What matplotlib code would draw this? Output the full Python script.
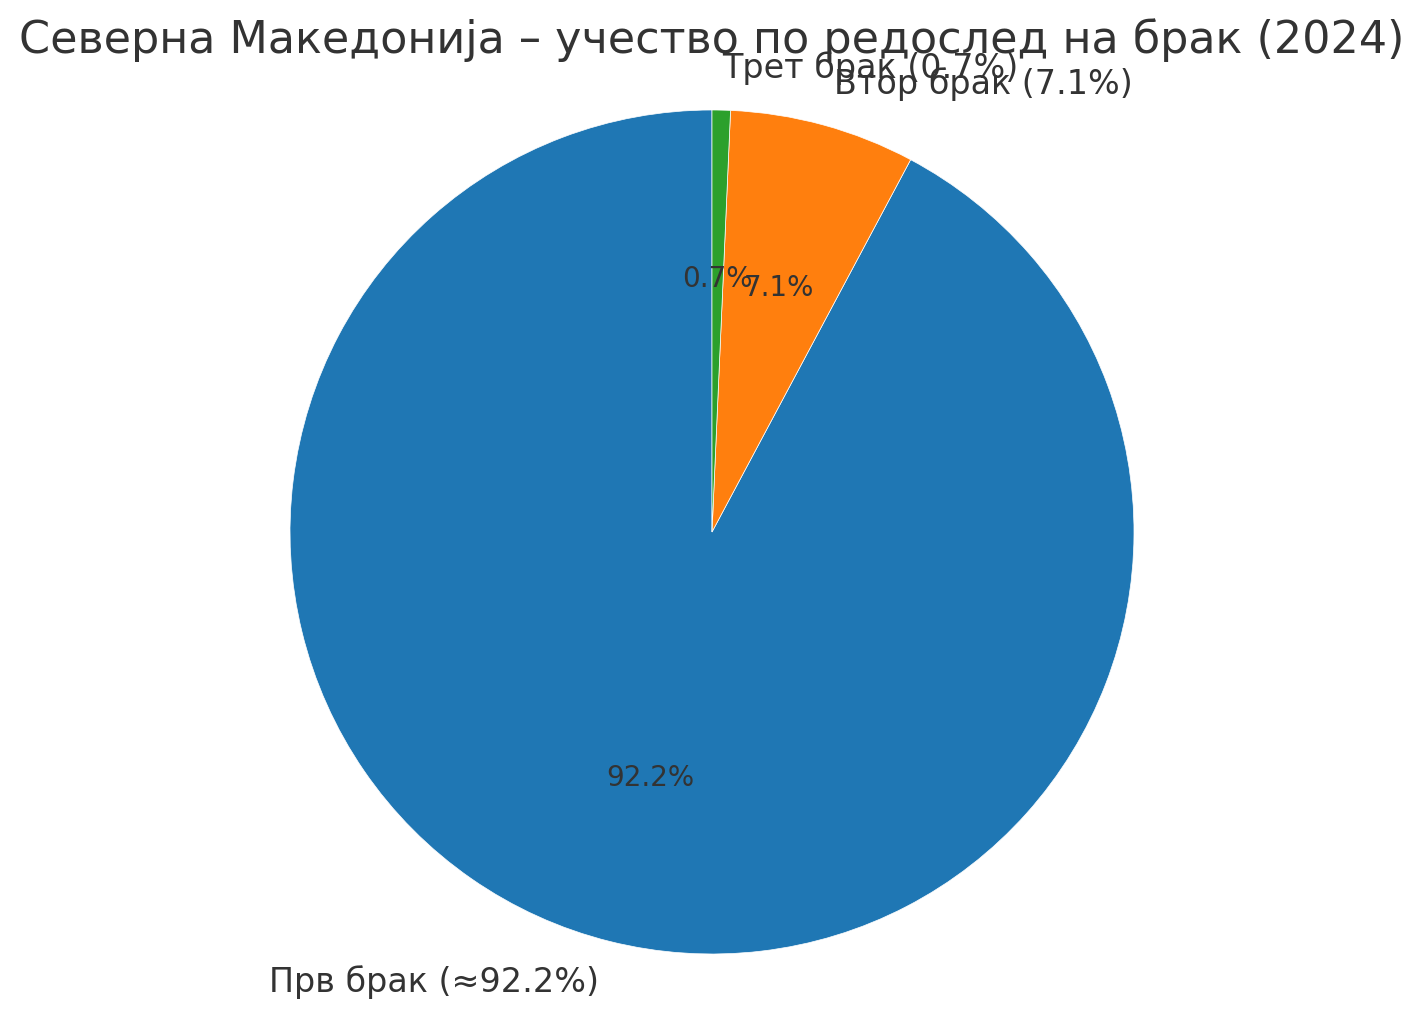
import matplotlib
matplotlib.use("Agg")
import matplotlib.pyplot as plt

# Marriage order shares, North Macedonia 2024
labels = ['Прв брак (≈92.2%)', 'Втор брак (7.1%)', 'Трет брак (0.7%)']
shares = [92.2, 7.1, 0.7]
colors = ['#1f77b4', '#ff7f0e', '#2ca02c']

text_color = '#333333'
plt.rcParams['font.family'] = ['DejaVu Sans']

W, H = 1425, 1021
fig = plt.figure(figsize=(W / 100, H / 100), dpi=100)

# pie centre (712, 532) px, radius 422 px
r = 422
cx, cy = 712, 532
half = 1.25 * r
ax = fig.add_axes([(cx - half) / W, (H - cy - half) / H, 2 * half / W, 2 * half / H])

wedges, texts, autotexts = ax.pie(
    shares, labels=labels, colors=colors, autopct='%1.1f%%',
    startangle=90, labeldistance=1.1, pctdistance=0.6,
    wedgeprops={'edgecolor': 'white', 'linewidth': 0.5},
    textprops={'color': text_color},
)
for t in texts:
    t.set_fontsize(24)
for t in autotexts:
    t.set_fontsize(20)
ax.set_xlim(-1.25, 1.25)
ax.set_ylim(-1.25, 1.25)
ax.set_aspect('equal')

fig.text(cx / W, 1 - 40 / H, 'Северна Македонија – учество по редослед на брак (2024)',
         ha='center', va='center', fontsize=32, color=text_color)

fig.savefig('out.png', dpi=100)
